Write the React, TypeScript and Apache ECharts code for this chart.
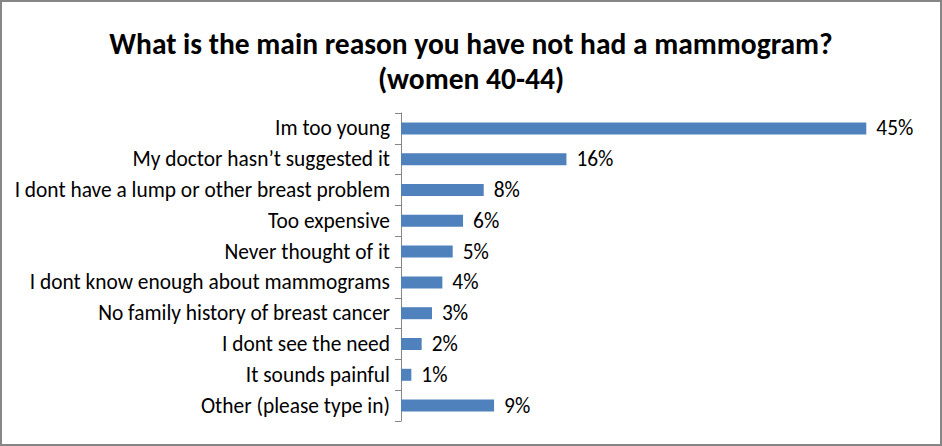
import React, { useEffect, useRef } from 'react'
import * as echarts from 'echarts'

const title = 'What is the main reason you have not had a mammogram?\n(women 40-44)'

const reasons = [
  'Im too young',
  'My doctor hasn\u2019t suggested it',
  'I dont have a lump or other breast problem',
  'Too expensive',
  'Never thought of it',
  'I dont know enough about mammograms',
  'No family history of breast cancer',
  'I dont see the need',
  'It sounds painful',
  'Other (please type in)'
]

const shares = [45, 16, 8, 6, 5, 4, 3, 2, 1, 9]

const font = 'Carlito, "Open Sans", "Liberation Sans", sans-serif'

const App: React.FC = () => {
  const chartRef = useRef<HTMLDivElement>(null)

  useEffect(() => {
    if (!chartRef.current) return
    const chart = echarts.init(chartRef.current, undefined, { renderer: 'svg' })

    chart.setOption({
      animation: false,
      backgroundColor: '#ffffff',
      title: {
        text: title,
        left: 'center',
        top: 21,
        textStyle: {
          fontFamily: font,
          fontSize: 29.5,
          fontWeight: 'bold',
          color: '#000000',
          lineHeight: 35
        }
      },
      graphic: [
        {
          type: 'rect',
          shape: { x: 1, y: 1, width: 940, height: 444 },
          style: { fill: 'none', stroke: '#868686', lineWidth: 2 },
          silent: true
        }
      ],
      grid: { left: 401, right: 24, top: 113, bottom: 25 },
      xAxis: {
        type: 'value',
        min: 0,
        max: 50,
        show: false
      },
      yAxis: {
        type: 'category',
        inverse: true,
        data: reasons,
        axisLine: { show: true, lineStyle: { color: '#868686', width: 1 } },
        axisTick: { show: true, length: 6, lineStyle: { color: '#868686' } },
        axisLabel: {
          color: '#000000',
          fontFamily: font,
          fontSize: 21.4,
          margin: 11
        }
      },
      series: [
        {
          type: 'bar',
          data: shares,
          barWidth: 12,
          itemStyle: { color: '#4f81bd' },
          label: {
            show: true,
            position: 'right',
            distance: 10,
            formatter: '{c}%',
            color: '#000000',
            fontFamily: font,
            fontSize: 21.4
          }
        }
      ]
    })

    return () => {
      chart.dispose()
    }
  }, [])

  return (
    <div
      ref={chartRef}
      style={{ position: 'fixed', left: 0, top: 0, width: '942px', height: '446px' }}
    />
  )
}

export default App
